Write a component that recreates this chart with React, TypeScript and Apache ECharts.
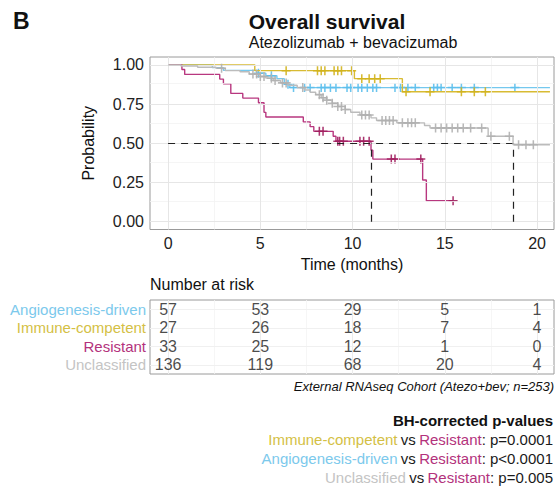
import React, { useEffect, useRef } from "react";
import * as echarts from "echarts";

const FONT = "Liberation Sans, Arial, sans-serif";

const GROUPS = ["Angiogenesis-driven", "Immune-competent", "Resistant", "Unclassified"];
const LINE_COLORS = ["#74c8ee", "#d8bb33", "#b8377f", "#bcbcbc"];
const MARK_COLORS = ["#5cbfec", "#d2b21c", "#a11f5f", "#b0b0b0"];
const LABEL_COLORS = ["#7cc9ec", "#d4bf45", "#b3327c", "#c4c4c4"];

// Kaplan-Meier step points [time, survival]
const angioSteps = [
  [0, 1], [2.4, 0.982], [3.0, 0.965], [4.8, 0.947], [5.3, 0.93], [5.9, 0.912],
  [6.3, 0.877], [6.6, 0.855], [20.7, 0.855],
];
const immuneSteps = [
  [0, 1], [4.7, 0.963], [10.1, 0.912], [12.7, 0.828], [20.7, 0.828],
];
const resistantSteps = [
  [0, 1], [0.75, 0.97], [0.9, 0.939], [2.8, 0.909], [3.0, 0.879], [3.4, 0.818],
  [4.05, 0.788], [4.9, 0.758], [5.2, 0.697], [5.3, 0.667], [7.33, 0.636],
  [7.7, 0.606], [7.9, 0.576], [8.95, 0.545], [9.1, 0.513], [11.0, 0.456],
  [11.1, 0.399], [13.8, 0.266], [14.0, 0.133], [15.45, 0.133],
];
const unclassSteps = [
  [0, 1], [0.7, 0.993], [1.6, 0.985], [2.6, 0.978], [3.1, 0.963], [3.9, 0.956],
  [4.4, 0.941], [5.0, 0.926], [5.3, 0.915], [5.7, 0.9], [6.1, 0.885], [6.5, 0.87],
  [7.0, 0.855], [7.4, 0.84], [7.7, 0.825], [8.0, 0.81], [8.3, 0.79], [8.6, 0.775],
  [8.9, 0.755], [9.2, 0.735], [9.6, 0.715], [9.9, 0.698], [10.4, 0.68],
  [11.0, 0.662], [11.3, 0.645], [12.4, 0.63], [13.9, 0.613], [14.2, 0.597],
  [17.35, 0.545], [18.7, 0.49], [20.7, 0.49],
];

// censoring times
const angioCensor = [4.9, 5.6, 6.5, 6.8, 7.4, 7.7, 8.3, 8.5, 8.8, 9.1, 9.7, 9.9, 10.3, 10.5, 10.8, 11.1, 11.3, 12.3, 12.6, 13.0, 13.4, 14.4, 14.6, 14.8, 15.4, 15.9, 16.6, 18.8];
const immuneCensor = [6.4, 8.1, 8.3, 8.5, 9.0, 9.2, 9.4, 9.95, 10.5, 10.9, 11.2, 11.5, 12.9, 14.2, 15.9, 16.6, 17.2];
const resistantCensor = [8.2, 8.4, 9.2, 9.3, 9.5, 10.4, 10.6, 10.9, 12.1, 12.3, 13.7, 15.45];
const unclassCensor = [2.9, 4.6, 4.8, 5.0, 5.2, 5.6, 5.8, 6.2, 6.4, 7.3, 8.2, 8.4, 8.6, 8.9, 9.2, 9.4, 9.6, 10.5, 10.7, 10.9, 11.6, 11.8, 12.0, 12.2, 12.7, 13.0, 13.2, 13.4, 14.5, 14.8, 15.1, 15.4, 15.7, 16.0, 16.4, 17.0, 17.5, 18.5, 19.0, 19.4, 19.8];

const STEPS = [angioSteps, immuneSteps, resistantSteps, unclassSteps];
const CENSORS = [angioCensor, immuneCensor, resistantCensor, unclassCensor];

// number at risk
const riskTimes = [0, 5, 10, 15, 20];
const angioRisk = [57, 53, 29, 5, 1];
const immuneRisk = [27, 26, 18, 7, 4];
const resistantRisk = [33, 25, 12, 1, 0];
const unclassRisk = [136, 119, 68, 20, 4];
const RISKS = [angioRisk, immuneRisk, resistantRisk, unclassRisk];

const xTicks = [0, 5, 10, 15, 20];
const xMinor = [2.5, 7.5, 12.5, 17.5];
const yTicks = [0, 0.25, 0.5, 0.75, 1];
const yMinor = [0.125, 0.375, 0.625, 0.875];

const pValues = [
  { group: 1, p: "p=0.0001" },
  { group: 0, p: "p<0.0001" },
  { group: 3, p: "p=0.005" },
];

function survAt(steps: number[][], t: number) {
  let s = 1;
  for (const [tt, v] of steps) {
    if (tt <= t) s = v;
    else break;
  }
  return s;
}
function medianOf(steps: number[][]) {
  for (const [t, v] of steps) if (v <= 0.5) return t;
  return null;
}

const PLUS = "path://M-0.17,-1H0.17V-0.17H1V0.17H0.17V1H-0.17V0.17H-1V-0.17H-0.17Z";

export default function App() {
  const ref = useRef<HTMLDivElement>(null);
  useEffect(() => {
    if (!ref.current) return;
    const chart = echarts.init(ref.current, null, { renderer: "svg" });
    const XMIN = -0.98, XMAX = 20.92;

    const gridLineSeries = {
      type: "line",
      xAxisIndex: 0,
      yAxisIndex: 0,
      data: [],
      z: 0,
      silent: true,
      markLine: {
        silent: true,
        symbol: ["none", "none"],
        label: { show: false },
        animation: false,
        data: [
          ...xMinor.map((v) => ({ xAxis: v, lineStyle: { color: "#f3f3f3", width: 0.8, type: "solid" } })),
          ...yMinor.map((v) => ({ yAxis: v, lineStyle: { color: "#f3f3f3", width: 0.8, type: "solid" } })),
          ...xTicks.map((v) => ({ xAxis: v, lineStyle: { color: "#e6e6e6", width: 1, type: "solid" } })),
          ...yTicks.map((v) => ({ yAxis: v, lineStyle: { color: "#e6e6e6", width: 1, type: "solid" } })),
        ],
      },
    };

    const kmSeries = STEPS.map((steps, i) => ({
      type: "line",
      name: GROUPS[i],
      step: "end",
      xAxisIndex: 0,
      yAxisIndex: 0,
      showSymbol: false,
      symbol: "none",
      data: steps,
      lineStyle: { color: LINE_COLORS[i], width: 1.4 },
      z: 2 + i,
    }));
    const censorSeries = CENSORS.map((c, i) => ({
      type: "scatter",
      name: GROUPS[i] + " censor",
      xAxisIndex: 0,
      yAxisIndex: 0,
      symbol: PLUS,
      symbolSize: 9,
      data: c.map((t) => [t, survAt(STEPS[i], t)]),
      itemStyle: { color: MARK_COLORS[i], opacity: 0.9 },
      z: 2 + i,
    }));

    const medians = STEPS.map((s) => medianOf(s)).filter((m) => m !== null) as number[];
    const maxMed = Math.max(...medians);
    const dash = { color: "#222", width: 1.2, type: [7, 6] as any };
    const medianSeries = {
      type: "line",
      xAxisIndex: 0,
      yAxisIndex: 0,
      data: [],
      z: 10,
      silent: true,
      markLine: {
        silent: true,
        symbol: ["none", "none"],
        label: { show: false },
        lineStyle: dash,
        data: [
          [{ coord: [0, 0.5] }, { coord: [maxMed, 0.5] }],
          ...medians.map((m) => [{ coord: [m, 0] }, { coord: [m, 0.5] }]),
        ],
      },
    };

    const tableGridSeries = {
      type: "line",
      xAxisIndex: 1,
      yAxisIndex: 1,
      data: [],
      z: 0,
      silent: true,
      markLine: {
        silent: true,
        symbol: ["none", "none"],
        label: { show: false },
        data: [
          ...xMinor.map((v) => ({ xAxis: v, lineStyle: { color: "#f4f4f4", width: 0.8, type: "solid" } })),
          ...xTicks.map((v) => ({ xAxis: v, lineStyle: { color: "#ececec", width: 1, type: "solid" } })),
          ...GROUPS.map((g) => ({ yAxis: g, lineStyle: { color: "#f0f0f0", width: 1, type: "solid" } })),
        ],
      },
    };

    const riskSeries = {
      type: "scatter",
      xAxisIndex: 1,
      yAxisIndex: 1,
      symbol: "circle",
      symbolSize: 1,
      itemStyle: { color: "rgba(0,0,0,0)" },
      data: RISKS.flatMap((r, i) => r.map((v, j) => [riskTimes[j], GROUPS[i], v])),
      label: {
        show: true,
        position: "inside",
        formatter: (p: any) => String(p.value[2]),
        fontFamily: FONT,
        fontSize: 16,
        color: "#1a1a1a",
      },
      z: 5,
    };

    const rich: any = {};
    LABEL_COLORS.forEach((c, i) => {
      rich["g" + i] = { color: c, fontSize: 15, fontFamily: FONT };
    });

    const pRich: any = {
      k: { fill: "#1a1a1a", fontSize: 15, fontFamily: FONT },
      r: { fill: LABEL_COLORS[2], fontSize: 15, fontFamily: FONT },
    };
    LABEL_COLORS.forEach((c, i) => {
      pRich["g" + i] = { fill: c, fontSize: 15, fontFamily: FONT };
    });

    const option: any = {
      animation: false,
      backgroundColor: "#ffffff",
      textStyle: { fontFamily: FONT },
      grid: [
        { left: 150, right: 2, top: 57, bottom: 256.5, show: true, borderColor: "#9a9a9a", borderWidth: 1, backgroundColor: "#fff", containLabel: false },
        { left: 150, right: 2, top: 300, height: 74, show: true, borderColor: "#9a9a9a", borderWidth: 1, backgroundColor: "#fff", containLabel: false },
      ],
      xAxis: [
        {
          type: "value",
          gridIndex: 0,
          min: XMIN,
          max: XMAX,
          axisLine: { show: false },
          splitLine: { show: false },
          axisTick: { show: true, customValues: xTicks, length: 4, lineStyle: { color: "#555" } },
          axisLabel: { customValues: xTicks, fontSize: 16, color: "#222", margin: 6, fontFamily: FONT },
          name: "Time (months)",
          nameLocation: "middle",
          nameGap: 27,
          nameTextStyle: { fontSize: 16, color: "#111", fontFamily: FONT, verticalAlign: "top" },
        },
        {
          type: "value",
          gridIndex: 1,
          min: XMIN,
          max: XMAX,
          axisLine: { show: false },
          splitLine: { show: false },
          axisTick: { show: false },
          axisLabel: { show: false },
        },
      ],
      yAxis: [
        {
          type: "value",
          gridIndex: 0,
          min: -0.05,
          max: 1.05,
          axisLine: { show: false },
          splitLine: { show: false },
          axisTick: { show: true, customValues: yTicks, length: 4, lineStyle: { color: "#555" } },
          axisLabel: { customValues: yTicks, formatter: (v: number) => v.toFixed(2), fontSize: 16, color: "#222", margin: 6, fontFamily: FONT },
          name: "Probability",
          nameLocation: "middle",
          nameGap: 54,
          nameTextStyle: { fontSize: 16, color: "#111", fontFamily: FONT },
        },
        {
          type: "category",
          gridIndex: 1,
          data: GROUPS,
          inverse: true,
          axisLine: { show: false },
          axisTick: { show: false },
          splitLine: { show: false },
          axisLabel: {
            margin: 4,
            formatter: (v: string, i: number) => `{g${i}|${v}}`,
            rich,
          },
        },
      ],
      series: [gridLineSeries, ...kmSeries, ...censorSeries, medianSeries, tableGridSeries, riskSeries],
      graphic: [
        { type: "text", x: 13, y: 21, style: { text: "B", font: `bold 23px ${FONT}`, fill: "#111", verticalAlign: "middle" } },
        { type: "text", x: 327, y: 21, style: { text: "Overall survival", font: `bold 21px ${FONT}`, fill: "#111", align: "center", verticalAlign: "middle" } },
        { type: "text", x: 353, y: 42, style: { text: "Atezolizumab + bevacizumab", font: `16px ${FONT}`, fill: "#111", align: "center", verticalAlign: "middle" } },
        { type: "text", x: 150, y: 284, style: { text: "Number at risk", font: `16px ${FONT}`, fill: "#111", verticalAlign: "middle" } },
        { type: "text", x: 554, y: 386, style: { text: "External RNAseq Cohort (Atezo+bev; n=253)", font: `italic 13px ${FONT}`, fill: "#111", align: "right", verticalAlign: "middle" } },
        { type: "text", x: 553, y: 420, style: { text: "BH-corrected p-values", font: `bold 15px ${FONT}`, fill: "#111", align: "right", verticalAlign: "middle" } },
        ...pValues.map((pv, i) => ({
          type: "text",
          x: 553,
          y: 439 + i * 19,
          style: {
            text: `{g${pv.group}|${GROUPS[pv.group]}} {k|vs} {r|${GROUPS[2]}}{k|: ${pv.p}}`,
            rich: pRich,
            align: "right",
            verticalAlign: "middle",
          },
        })),
      ],
    };
    chart.setOption(option);
    return () => chart.dispose();
  }, []);
  return (
    <div
      ref={ref}
      style={{ position: "fixed", left: 0, top: 0, width: 556, height: 486, background: "#fff" }}
    />
  );
}
